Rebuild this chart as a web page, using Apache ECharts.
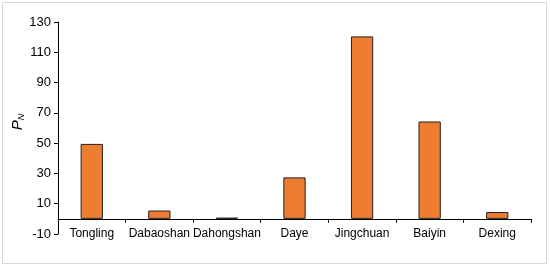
<!DOCTYPE html>
<html>
<head>
    <meta charset="utf-8">
    <script src="https://cdn.jsdelivr.net/npm/echarts@6/dist/echarts.min.js"></script>
    <style>
        body { margin: 0; background: #fff; }
        #main { position: absolute; left: 2px; top: 2px; width: 545px; height: 262px;
                border: 1px solid #d9d9d9; box-sizing: border-box; }
    </style>
</head>
<body>
    <div id="main"></div>
    <script type="text/javascript">
        var sites = ['Tongling', 'Dabaoshan', 'Dahongshan', 'Daye', 'Jingchuan', 'Baiyin', 'Dexing'];
        var pn = [49.5, 5.5, 0.8, 27.4, 120.5, 64.3, 4.5];
        var yTicks = [-10, 10, 30, 50, 70, 90, 110, 130];

        var myChart = echarts.init(document.getElementById('main'));
        var option = {
            animation: false,
            grid: { left: 55, right: 15, top: 19, bottom: 29, containLabel: false, outerBoundsMode: 'none' },
            xAxis: {
                type: 'category',
                data: sites,
                axisLine: { onZero: true, lineStyle: { color: '#000', width: 1 } },
                axisTick: { show: true, alignWithLabel: false, length: 4, lineStyle: { color: '#000' } },
                axisLabel: { color: '#000', fontFamily: 'Liberation Sans', fontSize: 12, interval: 0,
                             margin: -6 },
                z: 10
            },
            yAxis: {
                type: 'value',
                min: yTicks[0],
                max: yTicks[yTicks.length - 1],
                interval: 20,
                name: '{p|P}{n|N}',
                nameLocation: 'middle',
                nameGap: 32,
                nameRotate: 90,
                nameMoveOverlap: false,
                nameTextStyle: {
                    padding: [0, 0, 0, 12],
                    rich: {
                        p: { fontFamily: 'Liberation Sans', fontStyle: 'italic', fontSize: 15, color: '#000' },
                        n: { fontFamily: 'Liberation Sans', fontStyle: 'italic', fontSize: 9, color: '#000',
                             verticalAlign: 'bottom', padding: [7, 0, 0, 0] }
                    }
                },
                axisLine: { show: true, lineStyle: { color: '#000', width: 1 } },
                axisTick: { show: true, length: 4, lineStyle: { color: '#000' } },
                axisLabel: { color: '#000', fontFamily: 'Liberation Sans', fontSize: 13, margin: 7 },
                splitLine: { show: false }
            },
            series: [{
                type: 'bar',
                data: pn,
                barWidth: '33%',
                itemStyle: { color: '#ed7d31', borderColor: '#222', borderWidth: 1 }
            }]
        };
        myChart.setOption(option);
    </script>
</body>
</html>
